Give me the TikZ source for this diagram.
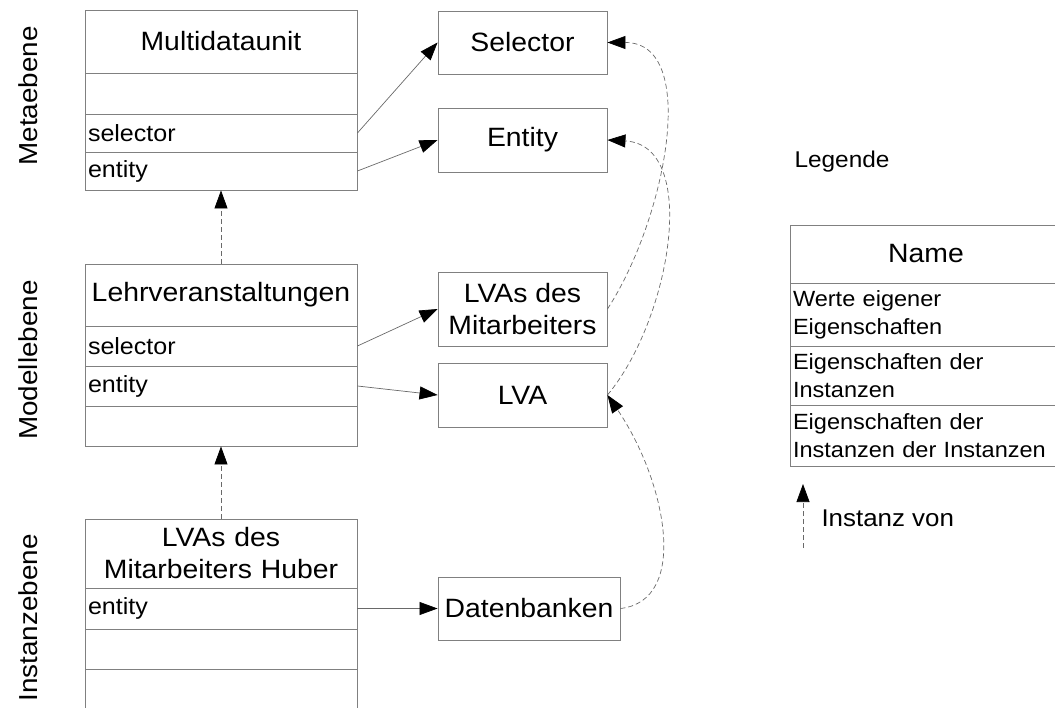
\documentclass[tikz,border=0pt]{standalone}
\usepackage{fontspec}
\setmainfont{Liberation Sans}[FakeStretch=1.07]
\usetikzlibrary{arrows.meta}
\definecolor{boxgray}{RGB}{128,128,128}
\definecolor{linegray}{RGB}{105,105,105}
\begin{document}
\begin{tikzpicture}[x=1pt,y=-1pt,
  titlefont/.style={font=\fontsize{26.5}{32}\selectfont},
  smallfont/.style={font=\fontsize{23.4}{28}\selectfont},
  legendfont/.style={font=\fontsize{22}{28}\selectfont},
  cell/.style={draw=boxgray, line width=0.9pt, minimum width=272pt,
    inner xsep=3pt, inner ysep=0pt, text width=266pt},
  titlecell/.style={cell, titlefont, align=center},
  fieldcell/.style={cell, smallfont, align=left},
  legendcell/.style={cell, legendfont, align=left},
  classbox/.style={draw=boxgray, line width=0.9pt, inner sep=0pt,
    titlefont, align=center},
  levellabel/.style={rotate=90, font=\fontsize{26}{29}\selectfont},
  ref/.style={draw=linegray, line width=0.7pt,
    -{Triangle[length=18pt,width=13pt,color=black]}},
  instof/.style={draw=linegray, line width=0.7pt, dash pattern=on 5pt off 3pt,
    -{Triangle[length=18pt,width=13pt,color=black]}}]

\useasboundingbox (0,0) rectangle (1055,708);

% level labels
\node[levellabel] (lbl-meta) at (28,96) {Metaebene};
\node[levellabel] (lbl-model) at (28,360) {Modellebene};
\node[levellabel] (lbl-inst) at (28,618) {Instanzebene};

% meta level: Multidataunit
\node[titlecell, minimum height=63pt] (mdu-title) at (221,41.5) {Multidataunit};
\node[fieldcell, minimum height=41pt] (mdu-empty) at (221,93.5) {};
\node[fieldcell, minimum height=38pt] (mdu-sel) at (221,133) {selector};
\node[fieldcell, minimum height=38pt] (mdu-ent) at (221,171) {entity};

\node[classbox, minimum width=169pt, minimum height=63pt] (selbox) at (522.5,42.5) {Selector};
\node[classbox, minimum width=169pt, minimum height=64pt] (entbox) at (522.5,140) {Entity};

% model level: Lehrveranstaltungen
\node[titlecell, minimum height=62pt] (lv-title) at (221,295) {Lehrveranstaltungen};
\node[fieldcell, minimum height=40pt] (lv-sel) at (221,346) {selector};
\node[fieldcell, minimum height=40pt] (lv-ent) at (221,386) {entity};
\node[fieldcell, minimum height=40pt] (lv-empty) at (221,426) {};

\node[classbox, minimum width=169pt, minimum height=74pt] (lvas) at (522.5,309) {LVAs des\\Mitarbeiters};
\node[classbox, minimum width=169pt, minimum height=64pt] (lva) at (522.5,395) {LVA};

% instance level
\node[titlecell, minimum height=69pt] (inst-title) at (221,553.5) {LVAs des\\Mitarbeiters Huber};
\node[fieldcell, minimum height=41pt] (inst-ent) at (221,608.5) {entity};
\node[fieldcell, minimum height=40pt] (inst-empty) at (221,649) {};
\node[fieldcell, minimum height=51pt] (inst-empty2) at (221,694.5) {};

\node[classbox, minimum width=182pt, minimum height=63pt] (db) at (529,608.5) {Datenbanken};

% references
\draw[ref] (mdu-sel.east) -- (selbox.west);
\draw[ref] (mdu-ent.east) -- (entbox.west);
\draw[ref] (lv-sel.east) -- (lvas.west);
\draw[ref] (lv-ent.east) -- (lva.west);
\draw[ref] (inst-ent.east) -- (db.west);

% instance-of relations
\draw[instof] (lv-title.north) -- (mdu-ent.south);
\draw[instof] (inst-title.north) -- (lv-empty.south);
\draw[instof] (lvas.east) .. controls +(58,-89) and +(93,0) .. (selbox.east);
\draw[instof] (lva.east) .. controls +(63,-75) and +(93,5) .. (entbox.east);
\draw[instof] (db.east) .. controls +(70,-8) and +(58,85) .. (lva.east);

% legend
\node[anchor=west, font=\fontsize{22.8}{28}\selectfont] (lg-head) at (791,162) {Legende};
\node[titlecell, minimum height=58pt] (lg-name) at (926,254) {Name};
\node[legendcell, minimum height=63pt] (lg-own) at (926,314.5) {Werte eigener\\Eigenschaften};
\node[legendcell, minimum height=59pt] (lg-inst) at (926,375.5) {Eigenschaften der\\Instanzen};
\node[legendcell, minimum height=61pt] (lg-instinst) at (926,435.5) {Eigenschaften der\\Instanzen der Instanzen};
\coordinate (lg-from) at (803,548);
\coordinate (lg-to) at (803,484);
\draw[instof] (lg-from) -- (lg-to);
\node[anchor=west, font=\fontsize{24.2}{28}\selectfont] (lg-text) at (818,518) {Instanz von};
\end{tikzpicture}
\end{document}
